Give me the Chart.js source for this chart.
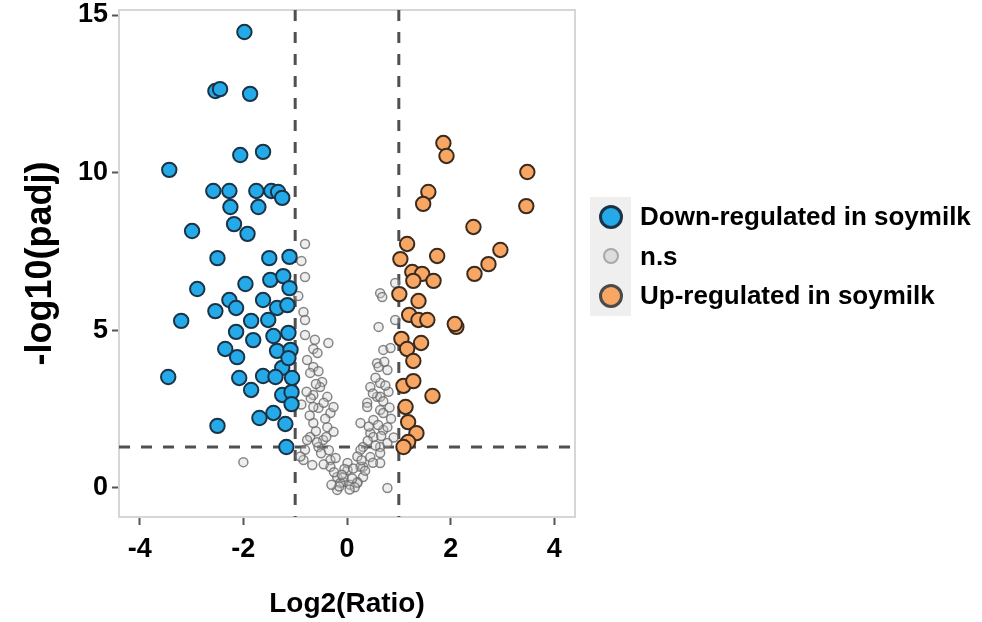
<!DOCTYPE html>
<html>
<head>
<meta charset="utf-8">
<script src="https://cdn.jsdelivr.net/npm/chart.js@4.4.1/dist/chart.umd.min.js"></script>
<style>
  body { margin: 0; background: #fff; }
  #wrap { position: relative; width: 982px; height: 622px; }
  #legend { position: absolute; left: 590px; top: 197px; font: bold 26px "Liberation Sans", Arial, sans-serif; color: #000; }
  .row { display: flex; align-items: center; height: 39.5px; }
  .key { width: 41px; height: 39.5px; background: #efefef; display: flex; align-items: center; justify-content: center; }
  .dot { border-radius: 50%; box-sizing: border-box; }
  .lbl { margin-left: 9px; white-space: nowrap; }
</style>
</head>
<body>
<div id="wrap">
  <canvas id="volcano" width="982" height="622"></canvas>
  <div id="legend"></div>
</div>
<script>
// Down-regulated (blue)
const downX = [-1.98,-2.54,-2.45,-1.87,-2.06,-1.62,-3.43,-2.58,-2.27,-1.75,-1.46,-1.33,-1.25,-2.25,-1.71,-2.18,-1.92,-2.99,-2.50,-1.50,-1.11,-2.89,-1.96,-1.48,-1.23,-1.11,-2.27,-2.14,-2.54,-1.62,-1.35,-1.15,-3.20,-1.85,-1.52,-2.14,-1.81,-1.42,-1.13,-2.35,-2.12,-1.35,-1.09,-1.25,-1.13,-3.45,-2.08,-1.85,-1.62,-1.38,-1.06,-1.25,-1.07,-1.07,-1.69,-1.42,-1.19,-2.50,-1.17];
const downY = [14.46,12.59,12.65,12.50,10.56,10.66,10.09,9.42,9.42,9.42,9.42,9.39,9.20,8.91,8.91,8.37,8.06,8.15,7.29,7.29,7.33,6.31,6.47,6.60,6.72,6.34,5.96,5.71,5.61,5.96,5.71,5.80,5.30,5.30,5.33,4.95,4.69,4.82,4.92,4.41,4.15,4.35,4.38,3.81,4.12,3.52,3.49,3.11,3.55,3.52,3.49,2.95,3.04,2.66,2.22,2.38,2.03,1.97,1.30];

// Up-regulated (orange)
const upX = [1.86,1.92,3.48,1.57,1.47,3.46,2.44,1.16,2.96,2.73,2.46,1.74,1.03,1.26,1.45,1.28,1.67,1.01,1.38,1.20,1.38,1.55,2.11,2.08,1.05,1.16,1.43,1.28,1.09,1.28,1.65,1.13,1.18,1.34,1.18,1.09];
const upY = [10.94,10.53,10.02,9.39,9.01,8.94,8.28,7.74,7.55,7.10,6.79,7.36,7.26,6.85,6.79,6.57,6.57,6.15,5.93,5.49,5.33,5.33,5.11,5.20,4.73,4.41,4.60,4.03,3.24,3.39,2.92,2.57,2.09,1.74,1.46,1.30];

// not significant (grey)
const nsX = [-0.81,-0.88,-0.81,-0.94,-0.84,-0.81,-0.81,-0.36,-0.65,-0.57,-0.77,-0.65,-0.71,-0.48,-0.52,-0.65,-0.38,-0.55,-0.32,-0.65,-0.26,-0.65,-0.38,-0.71,-0.46,-0.26,-0.77,-0.81,-0.55,-0.32,-0.84,-0.67,-0.32,-0.19,-0.07,0.06,0.20,0.31,0.01,-0.13,-0.19,-0.07,0.20,0.01,0.31,0.26,0.45,0.64,0.78,0.31,0.64,0.26,0.64,0.45,0.70,0.51,0.78,0.51,0.26,0.78,0.64,0.70,0.39,0.39,0.58,0.64,0.45,0.64,0.78,0.58,0.61,0.70,0.84,0.61,0.93,0.64,0.68,0.93,-2.00,-0.42,-0.60,-0.50,-0.35,-0.25,-0.45,-0.60,-0.55,-0.45,-0.72,-0.90,-0.15,0.10,0.15,0.35,0.50,0.55,0.40,0.60,0.70,0.50,0.55,0.80,0.72,0.85,0.90,0.20,-0.05,0.05,-0.30,-0.88,-0.70,-0.58,-0.40,-0.22,-0.10,0.12,0.28,0.42,0.66,0.82,0.74,-0.78,-0.62];
const nsY = [7.74,7.20,6.69,6.09,5.58,5.33,4.85,4.60,4.41,4.28,4.06,3.84,3.65,3.36,3.20,2.95,2.89,2.54,2.38,2.57,2.57,2.06,1.93,1.62,1.52,1.78,1.52,1.21,1.30,0.89,0.89,0.73,0.67,0.35,0.19,0.10,0.19,0.35,0.57,0.16,-0.06,0.35,0.16,0.79,0.67,0.67,0.98,0.79,0.00,1.30,1.30,1.21,1.11,1.74,1.84,1.62,1.43,2.16,2.06,1.93,2.47,2.38,2.70,2.57,2.89,2.89,3.20,3.33,3.74,3.96,3.84,4.38,4.44,5.11,5.33,6.18,6.06,6.50,0.82,2.20,1.80,1.10,1.20,0.50,0.75,3.30,3.70,2.70,2.30,1.00,0.05,0.30,0.02,0.55,0.80,1.35,1.50,2.00,2.75,3.00,3.50,3.05,4.00,2.20,1.60,1.00,0.60,-0.05,0.10,2.65,2.85,1.45,1.62,0.95,0.42,0.62,0.88,1.95,1.65,2.55,3.25,3.05,4.70];

const xTicks = [-4, -2, 0, 2, 4];
const yTicks = [0, 5, 10, 15];
const foldLines = [-1, 1];
const padjLine = 1.3;
const legendLabels = ['Down-regulated in soymilk', 'n.s', 'Up-regulated in soymilk'];

const FONT = '"Liberation Sans", Arial, sans-serif';
const blueFill = '#25aae9', blueEdge = '#1b3346';
const orangeFill = '#f7a664', orangeEdge = '#3b2a1e';
const greyFill = 'rgba(205,205,205,0.35)', greyEdge = 'rgba(105,105,105,0.8)';

function toPoints(xs, ys) {
    return xs.map((x, i) => ({ x: x, y: ys[i] }));
}

// frame + dashed threshold lines, under the points
const guides = {
    id: 'guides',
    beforeDatasetsDraw(chart) {
        const { ctx, chartArea: a, scales } = chart;
        ctx.save();
        ctx.strokeStyle = '#d6d6d6';
        ctx.lineWidth = 2;
        ctx.strokeRect(a.left, a.top, a.right - a.left, a.bottom - a.top);

        ctx.strokeStyle = '#505050';
        ctx.lineWidth = 3;
        ctx.setLineDash([11, 11]);
        foldLines.forEach(v => {
            const px = scales.x.getPixelForValue(v);
            ctx.beginPath();
            ctx.moveTo(px, a.top);
            ctx.lineTo(px, a.bottom);
            ctx.stroke();
        });
        const py = scales.y.getPixelForValue(padjLine);
        ctx.beginPath();
        ctx.moveTo(a.left, py);
        ctx.lineTo(a.right, py);
        ctx.stroke();
        ctx.restore();
    }
};

const tickFont = { family: FONT, size: 27, weight: 'bold' };

new Chart(document.getElementById('volcano'), {
    type: 'scatter',
    data: {
        datasets: [
            { label: legendLabels[0], data: toPoints(downX, downY), backgroundColor: blueFill, borderColor: blueEdge, borderWidth: 2, pointRadius: 7.2, pointHoverRadius: 7.2 },
            { label: legendLabels[2], data: toPoints(upX, upY), backgroundColor: orangeFill, borderColor: orangeEdge, borderWidth: 2, pointRadius: 7.2, pointHoverRadius: 7.2 },
            { label: legendLabels[1], data: toPoints(nsX, nsY), backgroundColor: greyFill, borderColor: greyEdge, borderWidth: 1.5, pointRadius: 4.5, pointHoverRadius: 4.5 }
        ]
    },
    options: {
        responsive: false,
        animation: false,
        devicePixelRatio: 1,
        layout: { padding: { top: 10, right: 407, left: 0, bottom: 0 } },
        plugins: { legend: { display: false }, tooltip: { enabled: false } },
        scales: {
            x: {
                type: 'linear', min: -4.4, max: 4.4,
                afterBuildTicks: s => { s.ticks = xTicks.map(v => ({ value: v })); },
                afterFit: s => { s.height = 105; s.paddingLeft = 0; s.paddingRight = 0; },
                border: { display: false },
                grid: { drawOnChartArea: false, drawTicks: true, tickLength: 8, tickColor: '#555', tickWidth: 2 },
                ticks: { font: tickFont, color: '#000', padding: 8, maxRotation: 0 },
                title: { display: true, text: 'Log2(Ratio)', color: '#000', font: { family: FONT, size: 28, weight: 'bold' }, padding: { top: 0, bottom: 1 } }
            },
            y: {
                type: 'linear', min: -0.92, max: 15.16,
                afterBuildTicks: s => { s.ticks = yTicks.map(v => ({ value: v })); },
                afterFit: s => { s.width = 119; s.paddingTop = 0; s.paddingBottom = 0; },
                border: { display: false },
                grid: { drawOnChartArea: false, drawTicks: true, tickLength: 7, tickColor: '#555', tickWidth: 2 },
                ticks: { font: tickFont, color: '#000', padding: 4 },
                title: { display: true, text: '-log10(padj)', color: '#000', font: { family: FONT, size: 36, weight: 'bold' }, padding: { top: 19, bottom: 0 } }
            }
        }
    },
    plugins: [guides]
});

// legend (ggplot style keys)
const legendKeys = [
    { fill: blueFill, edge: blueEdge, size: 24, bw: 3 },
    { fill: '#dcdcdc', edge: '#a8a8a8', size: 16, bw: 2 },
    { fill: orangeFill, edge: '#4a4a4a', size: 24, bw: 3 }
];
const legendEl = document.getElementById('legend');
legendLabels.forEach((txt, i) => {
    const k = legendKeys[i];
    const row = document.createElement('div');
    row.className = 'row';
    row.innerHTML = '<div class="key"><div class="dot" style="width:' + k.size + 'px;height:' + k.size + 'px;background:' + k.fill +
        ';border:' + k.bw + 'px solid ' + k.edge + '"></div></div><span class="lbl">' + txt + '</span>';
    legendEl.appendChild(row);
});
</script>
</body>
</html>
